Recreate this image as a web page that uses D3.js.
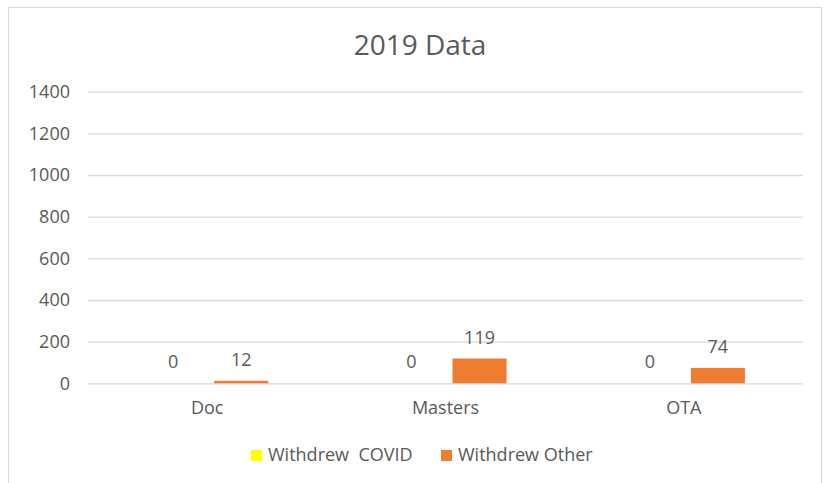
<!DOCTYPE html>
<html><head><meta charset="utf-8">
<script src="https://cdn.jsdelivr.net/npm/d3@7"></script>
<style>body{margin:0;background:#fff}svg{display:block}text{font-family:"Open Sans",sans-serif;fill:#595959}</style>
</head><body>
<svg id="c" width="829" height="483"></svg>
<script>
const categories = ["Doc", "Masters", "OTA"];
const seriesNames = ["Withdrew  COVID", "Withdrew Other"];
const withdrewCovid = [0, 0, 0];
const withdrewOther = [12, 119, 74];
const yTicks = [0, 200, 400, 600, 800, 1000, 1200, 1400];
const title = "2019 Data";
const colors = ["#FFFF00", "#ED7D31"];

(function () {
const seriesValues = [withdrewCovid, withdrewOther];
const svg = d3.select("#c");
svg.append("rect").attr("x", 8.5).attr("y", 7.5).attr("width", 813).attr("height", 490)
  .attr("fill", "#fff").attr("stroke", "#d9d9d9").attr("stroke-width", 1);

const pLeft = 88, pRight = 803, pTop = 91.7, pBottom = 383.3;
const y = d3.scaleLinear().domain([0, 1400]).range([pBottom, pTop]);
const x0 = d3.scaleBand().domain(categories).range([pLeft, pRight]).padding(0);
const x1 = d3.scaleBand().domain(seriesNames).range([0, x0.bandwidth()])
  .paddingInner(0.206).paddingOuter(0.853);

svg.append("text").attr("x", 420).attr("y", 55).attr("text-anchor", "middle")
  .attr("font-size", 28).text(title);

const yAxis = d3.axisLeft(y).tickValues(yTicks).tickFormat(d3.format("d"))
  .tickSize(-(pRight - pLeft)).tickPadding(18);
const gy = svg.append("g").attr("transform", `translate(${pLeft},0)`).call(yAxis);
gy.select(".domain").remove();
gy.selectAll(".tick line").attr("stroke", "#d9d9d9").attr("stroke-width", 1.3);
gy.selectAll(".tick text").attr("font-size", 18).attr("fill", "#595959")
  .style("font-family", '"Open Sans",sans-serif');

const xAxis = d3.axisBottom(x0).tickSize(0).tickPadding(18);
const gx = svg.append("g").attr("transform", `translate(0,${pBottom})`).call(xAxis);
gx.select(".domain").remove();
gx.selectAll(".tick text").attr("font-size", 18).attr("fill", "#595959")
  .style("font-family", '"Open Sans",sans-serif');

const data = [];
categories.forEach((c, i) => seriesNames.forEach((s, j) => data.push({c, s, j, v: seriesValues[j][i]})));

svg.append("g").selectAll("rect").data(data).join("rect")
  .attr("x", d => x0(d.c) + x1(d.s))
  .attr("width", x1.bandwidth())
  .attr("y", d => y(d.v))
  .attr("height", d => pBottom - y(d.v))
  .attr("fill", d => colors[d.j]);

svg.append("g").selectAll("text").data(data).join("text")
  .attr("x", d => x0(d.c) + x1(d.s) + x1.bandwidth() / 2)
  .attr("y", d => y(d.v) - 15)
  .attr("text-anchor", "middle").attr("font-size", 18)
  .text(d => d.v);

const legendX = [251, 441];
const lg = svg.append("g").selectAll("g").data(seriesNames).join("g")
  .attr("transform", (d, i) => `translate(${legendX[i]},450)`);
lg.append("rect").attr("width", 11).attr("height", 11).attr("fill", (d, i) => colors[i]);
lg.append("text").attr("x", 17).attr("y", 11).attr("font-size", 18)
  .attr("xml:space", "preserve").style("white-space", "pre").text(d => d);
})();
</script>
</body></html>
